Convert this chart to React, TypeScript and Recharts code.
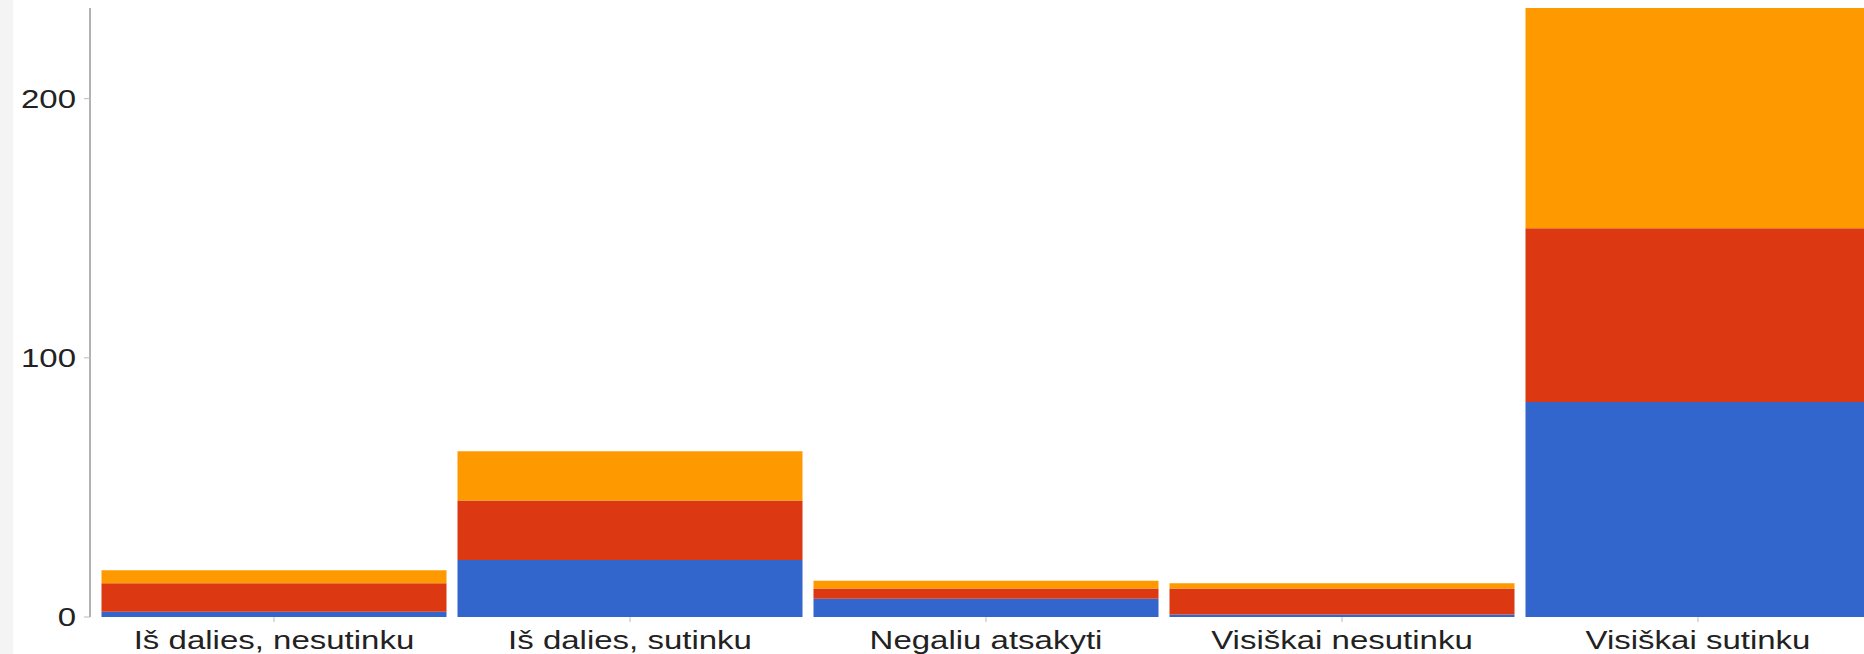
import { BarChart, Bar, XAxis, YAxis } from 'recharts'

// kategorijos ir serijos
const categories = [
  'Iš dalies, nesutinku',
  'Iš dalies, sutinku',
  'Negaliu atsakyti',
  'Visiškai nesutinku',
  'Visiškai sutinku',
]
const blueValues = [2, 22, 7, 1, 83]
const redValues = [11, 23, 4, 10, 67]
const orangeValues = [5, 19, 3, 2, 85]
const yTicks = [0, 100, 200]

const COLORS = {
  blue: '#3366CC',
  red: '#DC3912',
  orange: '#FF9900',
}

const FONT = '"Liberation Sans", Arial, sans-serif'
const STRETCH = 1.32 // the original picture is stretched horizontally

const chartData = categories.map((name, i) => ({
  name,
  blue: blueValues[i],
  red: redValues[i],
  orange: orangeValues[i],
}))

function XTick({ x, y, payload }: any) {
  return (
    <g transform={`translate(${x},${y}) scale(${STRETCH},1)`}>
      <text textAnchor="middle" dy={25} fontSize={25} fill="#222" fontFamily={FONT}>
        {payload.value}
      </text>
    </g>
  )
}

function YTick({ x, y, payload }: any) {
  return (
    <g transform={`translate(${x - 6},${y}) scale(${STRETCH},1)`}>
      <text textAnchor="end" dy="0.36em" fontSize={25} fill="#222" fontFamily={FONT}>
        {payload.value}
      </text>
    </g>
  )
}

export default function App() {
  return (
    <div
      style={{
        position: 'absolute',
        left: 0,
        top: 0,
        width: 1864,
        height: 654,
        overflow: 'hidden',
        background: '#fff',
      }}
    >
      <div style={{ position: 'absolute', left: 0, top: 0, width: 13, height: 654, background: '#f4f4f4' }} />
      <BarChart
        width={1876}
        height={654}
        data={chartData}
        margin={{ top: 8, right: 0, left: 0, bottom: 0 }}
        barCategoryGap={5.5}
      >
        <XAxis
          dataKey="name"
          height={37}
          axisLine={false}
          tickLine={{ stroke: '#bbb' }}
          tickSize={5}
          padding={{ left: 6, right: 0 }}
          interval={0}
          tick={<XTick />}
        />
        <YAxis
          width={90}
          domain={[0, 235]}
          ticks={yTicks}
          axisLine={{ stroke: '#999', strokeWidth: 1.5 }}
          tickLine={{ stroke: '#bbb' }}
          tickSize={6}
          tick={<YTick />}
        />
        <Bar dataKey="blue" stackId="a" fill={COLORS.blue} isAnimationActive={false} />
        <Bar dataKey="red" stackId="a" fill={COLORS.red} isAnimationActive={false} />
        <Bar dataKey="orange" stackId="a" fill={COLORS.orange} isAnimationActive={false} />
      </BarChart>
    </div>
  )
}
